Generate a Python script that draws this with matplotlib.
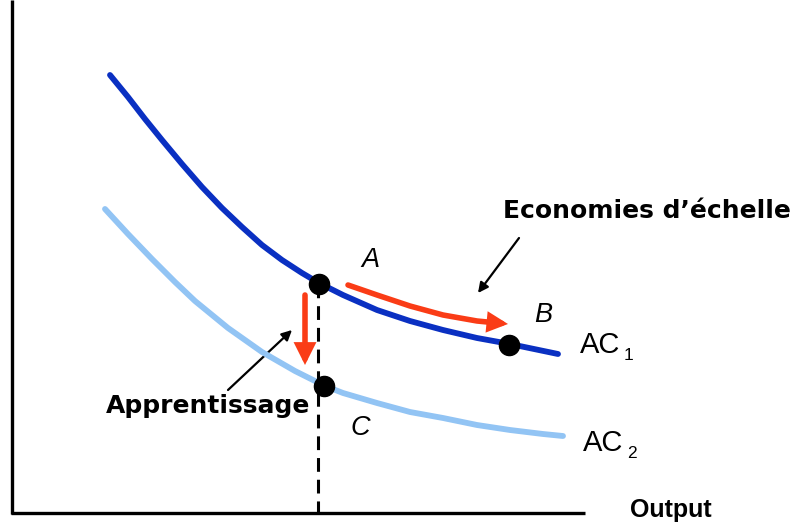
import matplotlib.pyplot as plt
from matplotlib.patches import FancyArrowPatch
from matplotlib.path import Path

# curve coordinates (x to the right, y downwards)
ac1_x = [110, 128, 145, 162, 182, 202, 222, 242, 262, 282, 302, 319,
         343, 377, 410, 443, 477, 510, 558]
ac1_y = [75, 97, 119, 140, 164, 187, 208, 227, 245, 260, 273, 283,
         295, 310, 321, 330, 338, 344, 354]
ac2_x = [105, 128, 152, 175, 195, 228, 262, 295, 325, 343, 377, 410,
         443, 477, 510, 543, 563]
ac2_y = [209, 234, 259, 282, 301, 328, 352, 371, 386, 393, 403, 412,
         418, 425, 430, 434, 436]

# economies of scale arrow, A -> B
scale_x = [348, 377, 410, 443, 477, 508]
scale_y = [285, 295, 306, 315, 321, 324]

# points A, B, C
pts_x = [319, 509, 324]
pts_y = [284, 345, 386]

dark_blue = "#0a30c2"
light_blue = "#92c4f4"
red = "#fa3c16"

fig = plt.figure(figsize=(7.98, 5.24), dpi=100)
ax = fig.add_axes([0, 0, 1, 1])
ax.set_xlim(0, 798)
ax.set_ylim(524, 0)
ax.axis("off")

# axes of the diagram
ax.plot([12, 12], [0, 514], color="black", lw=2.4, solid_capstyle="butt")
ax.plot([11, 585], [513, 513], color="black", lw=2.4, solid_capstyle="butt")

ax.plot(ac1_x, ac1_y, color=dark_blue, lw=4.2, solid_capstyle="round",
        solid_joinstyle="round")
ax.plot(ac2_x, ac2_y, color=light_blue, lw=4.2, solid_capstyle="round",
        solid_joinstyle="round")

# dashed line under A
ax.plot([318, 318], [284, 513], color="black", lw=2.2, ls=(0, (4.5, 2.6)))

ax.plot(pts_x, pts_y, "o", color="black", ms=14.5, zorder=5)

# red arrows
ax.add_patch(FancyArrowPatch(path=Path(list(zip(scale_x, scale_y))),
                             arrowstyle="-|>,head_length=9,head_width=4.5",
                             color=red, lw=4, joinstyle="miter"))
ax.add_patch(FancyArrowPatch((305, 295), (305, 365),
                             arrowstyle="-|>,head_length=10,head_width=5",
                             color=red, lw=4, shrinkA=0, shrinkB=0,
                             joinstyle="miter"))

# black pointer arrows
ax.add_patch(FancyArrowPatch((228, 390), (292, 330),
                             arrowstyle="-|>,head_length=6,head_width=3",
                             color="black", lw=1.6, shrinkA=0, shrinkB=0))
ax.add_patch(FancyArrowPatch((519, 238), (478, 293),
                             arrowstyle="-|>,head_length=6,head_width=3",
                             color="black", lw=1.6, shrinkA=0, shrinkB=0))

bold = dict(fontsize=18, fontweight="bold", family="DejaVu Sans")
ax.text(647, 218, "Economies d’échelle", ha="center", va="baseline", **bold)
ax.text(208, 413, "Apprentissage", ha="center", va="baseline", **bold)
ax.text(671, 517, "Output", fontsize=18, fontweight="bold",
        family="Liberation Sans", ha="center", va="baseline")

ital = dict(fontsize=19.5, style="italic", family="Liberation Sans",
            ha="center", va="baseline")
ax.text(370, 267, "A", **ital)
ax.text(543, 322, "B", **ital)
ax.text(360, 435, "C", **ital)

reg = dict(family="Liberation Sans", ha="left", va="baseline")
ax.text(580, 353, "AC", fontsize=21, **reg)
ax.text(624, 360, "1", fontsize=12.5, **reg)
ax.text(583, 451, "AC", fontsize=21, **reg)
ax.text(627, 458, "2", fontsize=12.5, **reg)

fig.savefig("out.png", dpi=100)
